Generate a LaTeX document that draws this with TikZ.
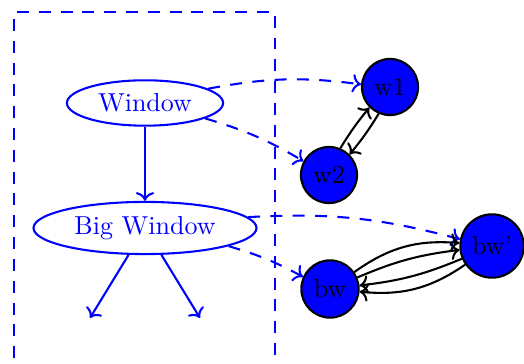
\documentclass[tikz,border=0pt]{standalone}
\usetikzlibrary{shapes.geometric,arrows.meta}
\begin{document}
\begin{tikzpicture}[x=0.385pt,y=-0.385pt,
  win/.style={ellipse,draw=blue,text=blue,thick,inner xsep=3.2pt,inner ysep=2.6pt},
  dot/.style={circle,draw=black,fill=blue,thick,inner sep=2.8pt},
  link/.style={->,blue,thick},
  remote/.style={->,blue,thick,dash pattern=on 4.6pt off 4pt},
  pair/.style={->,black,thick}]
\clip (0,0) rectangle (524,364);
% dashed frame, open at the bottom
\draw[blue,thick,dash pattern=on 4.6pt off 3.8pt] (14,380) -- (14,12) -- (275,12) -- (275,380);
% window hierarchy
\node[win] (win) at (145,103) {Window};
\node[win] (big) at (145,228) {Big Window};
\coordinate (l) at (90,318);
\coordinate (r) at (200,318);
% instances
\node[dot] (w1) at (390,87) {w1};
\node[dot] (w2) at (329,175) {w2};
\node[dot] (bw) at (330,289) {bw};
\node[dot] (bwp) at (492,246) {bw'};
% class edges
\draw[link] (win) -- (big);
\draw[link] (big) -- (l);
\draw[link] (big) -- (r);
% instance-of edges
\draw[remote] (win) to[bend left=9] (w1);
\draw[remote] (win) to[bend left=7] (w2);
\draw[remote] (big) to[bend left=9] (bwp);
\draw[remote] (big) to[bend left=6] (bw);
% links between instances
\draw[pair] (w2.67) to[bend left=4] (w1.225);
\draw[pair] (w1.247) to[bend left=4] (w2.45);
\draw[pair] (bw) to[bend left=20] (bwp);
\draw[pair] (bw) to[bend left=8] (bwp);
\draw[pair] (bwp) to[bend left=8] (bw);
\draw[pair] (bwp) to[bend left=20] (bw);
\end{tikzpicture}
\end{document}
